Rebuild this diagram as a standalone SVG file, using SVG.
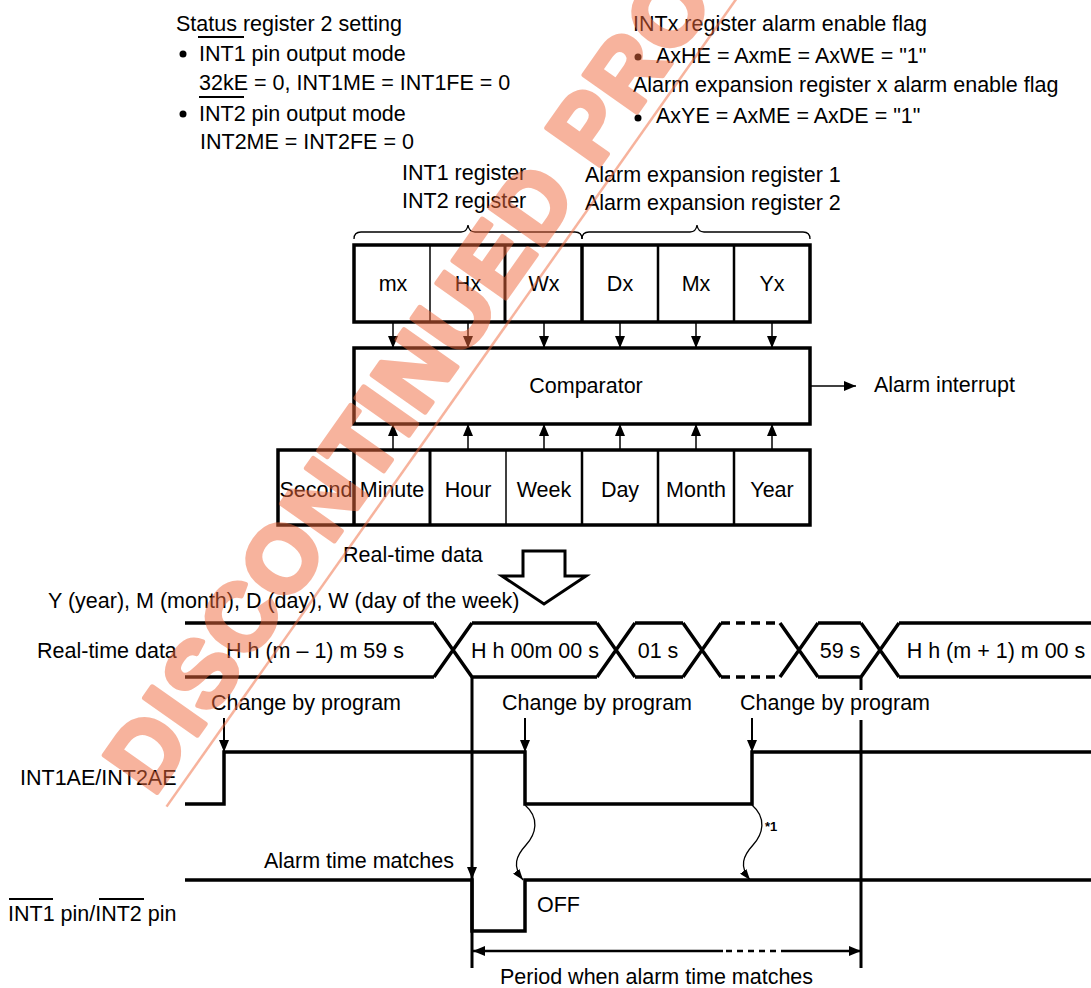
<svg xmlns="http://www.w3.org/2000/svg" width="1091" height="988" viewBox="0 0 1091 988">
<defs>
<style>
text{font-family:"Liberation Sans",Arial,sans-serif;font-size:21.5px;fill:#000}
.c{text-anchor:middle}
.box{fill:#fff;stroke:#000;stroke-width:3.5}
.ln{stroke:#000;fill:none;stroke-width:1.5}
.wave{stroke:#000;fill:none;stroke-width:3.5}
.thin{stroke:#000;fill:none;stroke-width:1.3}
.ol{stroke:#000;stroke-width:2}
.wm{font-family:"Liberation Sans",Arial,sans-serif;font-weight:bold;font-size:94px;fill:#F06A3E;stroke:#F06A3E;stroke-width:5;stroke-linejoin:round}
</style>
<marker id="ah" viewBox="0 0 12 10" refX="12" refY="5" markerWidth="12" markerHeight="10" markerUnits="userSpaceOnUse" orient="auto-start-reverse"><path d="M0,0L12,5L0,10z"/></marker>
<marker id="ahs" viewBox="0 0 11 8" refX="11" refY="4" markerWidth="11" markerHeight="8" markerUnits="userSpaceOnUse" orient="auto"><path d="M0,0L11,4L0,8z"/></marker>
</defs>
<rect width="1091" height="988" fill="#fff"/>

<g id="status-note">
<text x="176" y="31">Status register 2 setting</text>
<circle cx="183" cy="54" r="3.5"/>
<text x="199" y="61">INT1 pin output mode</text>
<text x="199" y="90">32kE = 0, INT1ME = INT1FE = 0</text>
<circle cx="183" cy="114" r="3.5"/>
<text x="199" y="121">INT2 pin output mode</text>
<text x="200" y="149">INT2ME = INT2FE = 0</text>
<path class="ol" d="M198,37H244M199,97H244"/>
</g>

<g id="enable-note">
<text x="633" y="31">INTx register alarm enable flag</text>
<circle cx="638" cy="57" r="3.5"/>
<text x="656" y="63">AxHE = AxmE = AxWE = "1"</text>
<text x="633" y="92">Alarm expansion register x alarm enable flag</text>
<circle cx="638" cy="118" r="3.5"/>
<text x="656" y="123">AxYE = AxME = AxDE = "1"</text>
</g>

<g id="register-labels">
<text x="402" y="180">INT1 register</text>
<text x="402" y="208">INT2 register</text>
<text x="585" y="182">Alarm expansion register 1</text>
<text x="585" y="210">Alarm expansion register 2</text>
<path class="thin" d="M354,239Q354,232 361,232H461Q467,232 468,225Q469,232 475,232H575Q582,232 582,239"/>
<path class="thin" d="M582,239Q582,232 589,232H690Q696,232 697,225Q698,232 704,232H803Q810,232 810,239"/>
</g>

<g id="alarm-registers">
<rect class="box" x="354" y="245" width="456" height="77"/>
<path stroke="#000" stroke-width="1.5" d="M430,245V322"/>
<path stroke="#000" stroke-width="3" d="M505,245V322"/>
<path stroke="#000" stroke-width="3.5" d="M582,245V322"/>
<path stroke="#000" stroke-width="2.5" d="M658,245V322M734,245V322"/>
<text class="c" x="393" y="291">mx</text>
<text class="c" x="468" y="291">Hx</text>
<text class="c" x="544" y="291">Wx</text>
<text class="c" x="620" y="291">Dx</text>
<text class="c" x="696" y="291">Mx</text>
<text class="c" x="772" y="291">Yx</text>
</g>

<g id="comparator">
<rect class="box" x="354" y="348" width="456" height="76" stroke-width="4"/>
<text class="c" x="586" y="393">Comparator</text>
</g>

<g id="alarm-interrupt">
<text x="874" y="392">Alarm interrupt</text>
</g>

<g id="realtime-registers">
<rect class="box" x="278" y="450" width="532" height="75"/>
<path stroke="#000" stroke-width="3.5" d="M354,450V525"/>
<path stroke="#000" stroke-width="3" d="M430,450V525"/>
<path stroke="#000" stroke-width="1.5" d="M506,450V525"/>
<path stroke="#000" stroke-width="2.5" d="M582,450V525M658,450V525M734,450V525"/>
<text class="c" x="316" y="497">Second</text>
<text class="c" x="392" y="497">Minute</text>
<text class="c" x="468" y="497">Hour</text>
<text class="c" x="544" y="497">Week</text>
<text class="c" x="620" y="497">Day</text>
<text class="c" x="696" y="497">Month</text>
<text class="c" x="772" y="497">Year</text>
<text x="343" y="562">Real-time data</text>
</g>

<g id="big-arrow">
<polygon points="523,551 565,551 565,576 586,576 544,604 502,576 523,576" fill="#fff" stroke="#000" stroke-width="3" stroke-linejoin="miter"/>
</g>

<g id="timing-labels">
<text x="48" y="608">Y (year), M (month), D (day), W (day of the week)</text>
<text x="37" y="658">Real-time data</text>
<text x="211" y="710">Change by program</text>
<text x="502" y="710">Change by program</text>
<text x="740" y="710">Change by program</text>
<text x="20" y="785">INT1AE/INT2AE</text>
<text x="264" y="868">Alarm time matches</text>
<text x="8" y="921">INT1 pin/INT2 pin</text>
<path class="ol" d="M9,899H53M99,899H144"/>
<text x="537" y="912">OFF</text>
<text x="765" y="831" style="font-size:13px;font-weight:bold">*1</text>
<text x="500" y="984">Period when alarm time matches</text>
</g>

<g id="realtime-bus">
<path class="wave" d="M185,623H434M185,677H434M434,623L472,677M434,677L472,623M472,623H597M472,677H597M597,623L635,677M597,677L635,623M635,623H683M635,677H683M683,623L721,677M683,677L721,623M780,623L818,677M780,677L818,623M818,623H861M818,677H861M861,623L899,677M861,677L899,623M899,623H1091M899,677H1091"/>
<path class="wave" stroke-dasharray="9 6" d="M721,623H780M721,677H780"/>
<text class="c" x="315" y="658">H h (m – 1) m 59 s</text>
<text class="c" x="535" y="658">H h 00m 00 s</text>
<text class="c" x="658" y="658">01 s</text>
<text class="c" x="840" y="658">59 s</text>
<text class="c" x="996" y="658">H h (m + 1) m 00 s</text>
</g>

<g id="int-ae-wave">
<path class="wave" d="M185,804H224V752H525V804H752V752H1091"/>
</g>

<g id="int-pin-wave">
<path class="wave" d="M185,880H472V931H525V880H1091"/>
</g>

<g id="connectors">
<path class="ln" marker-end="url(#ah)" d="M393,322V348"/>
<path class="ln" marker-end="url(#ah)" d="M468,322V348"/>
<path class="ln" marker-end="url(#ah)" d="M544,322V348"/>
<path class="ln" marker-end="url(#ah)" d="M620,322V348"/>
<path class="ln" marker-end="url(#ah)" d="M696,322V348"/>
<path class="ln" marker-end="url(#ah)" d="M772,322V348"/>
<path class="ln" marker-end="url(#ah)" d="M393,450V424"/>
<path class="ln" marker-end="url(#ah)" d="M468,450V424"/>
<path class="ln" marker-end="url(#ah)" d="M544,450V424"/>
<path class="ln" marker-end="url(#ah)" d="M620,450V424"/>
<path class="ln" marker-end="url(#ah)" d="M696,450V424"/>
<path class="ln" marker-end="url(#ah)" d="M772,450V424"/>
<path class="ln" marker-end="url(#ah)" d="M810,386H856"/>
<path stroke="#000" stroke-width="2" marker-end="url(#ah)" d="M224,718V752"/>
<path stroke="#000" stroke-width="2" marker-end="url(#ah)" d="M525,718V752"/>
<path stroke="#000" stroke-width="2" marker-end="url(#ah)" d="M752,718V752"/>
<path stroke="#000" stroke-width="3" fill="none" d="M472,677V968"/>
<path stroke="#000" stroke-width="3" fill="none" d="M861,677V690M861,720V968"/>
<path stroke="#000" stroke-width="2" marker-end="url(#ah)" d="M472,860V879"/>
<path class="thin" marker-end="url(#ahs)" d="M525,805C540,818 536,834 526,845C516,856 512,866 523,880"/>
<path class="thin" marker-end="url(#ahs)" d="M752,805C767,818 763,834 753,845C743,856 739,866 750,880"/>
<path stroke="#000" stroke-width="2.5" marker-start="url(#ah)" d="M473,951H723"/>
<path stroke="#000" stroke-width="2.5" stroke-dasharray="6 5" d="M726,951H780"/>
<path stroke="#000" stroke-width="2.5" marker-end="url(#ah)" d="M781,951H861"/>
</g>

<g id="watermark" transform="translate(160,802) rotate(-54.8)" opacity="0.5">
<text class="wm" x="0" y="-8" letter-spacing="2">DISCONTINUED PRODUCT</text>
<line x1="0" y1="8" x2="1000" y2="8" stroke="#F06A3E" stroke-width="2.5"/>
</g>
</svg>
